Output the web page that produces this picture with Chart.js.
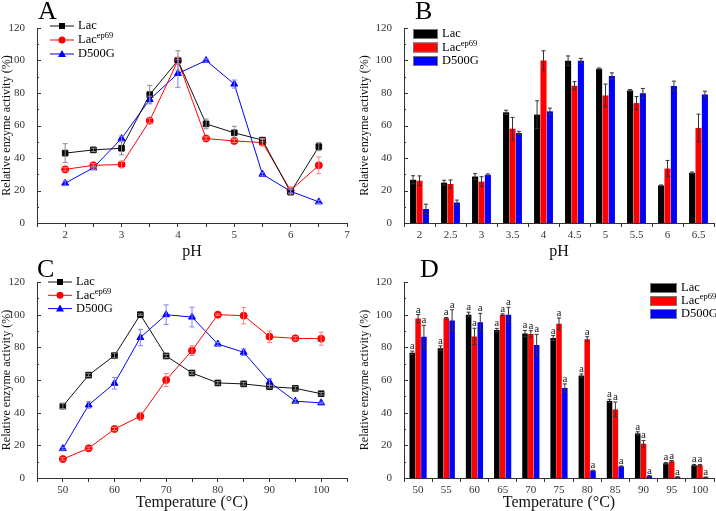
<!DOCTYPE html>
<html>
<head>
<title>Relative enzyme activity</title>
<script src="https://cdn.jsdelivr.net/npm/chart.js"></script>
<style>
  body { margin: 0; background: #fff; }
  #wrap { position: relative; width: 716px; height: 511px; }
  canvas { position: absolute; }
</style>
</head>
<body>
<div id="wrap">
  <canvas id="chartC" width="358" height="256" style="left:0;top:255px"></canvas>
  <canvas id="chartD" width="358" height="256" style="left:358px;top:255px"></canvas>
  <canvas id="chartA" width="358" height="262" style="left:0;top:0"></canvas>
  <canvas id="chartB" width="358" height="262" style="left:358px;top:0"></canvas>
</div>
<script>
// ---- data ----
const phValues = [2, 2.5, 3, 3.5, 4, 4.5, 5, 5.5, 6, 6.5];
const tempValues = [50, 55, 60, 65, 70, 75, 80, 85, 90, 95, 100];

// A: pH, line
const aLac = [43, 45, 46, 79, 100, 61, 55.5, 51, 19, 47];
const aLacErr = [5.8, 1, 4, 5.7, 6, 3, 4, 1, 2, 2.5];
const aEp69 = [33, 35.5, 36, 63, 100, 52, 50.5, 49.5, 20, 35.5];
const aEp69Err = [1, 1, 2, 1.5, 2, 1, 1, 2, 2, 5.2];
const aD500g = [24.5, 34, 52, 76, 92, 100, 85.5, 30, 19.5, 13];
const aD500gErr = [1.5, 1, 1.5, 2, 8.5, 1, 2.5, 1, 1, 1];

// B: pH, bars
const bLac = [26.6, 24.8, 28.6, 68.1, 66.7, 99.8, 94.9, 81.6, 23.1, 30.9];
const bLacErr = [2.5, 1.5, 1.8, 1.3, 8.5, 3, 0.5, 0.5, 0.3, 0.5];
const bEp69 = [26, 24, 25.5, 58, 100, 84.5, 78.5, 73.8, 33.5, 58.5];
const bEp69Err = [3, 2.5, 3, 7, 6, 2.5, 7, 4, 5, 8.5];
const bD500g = [8.6, 12.6, 29.7, 55.4, 68.7, 99.8, 90.4, 79.8, 84.3, 79.1];
const bD500gErr = [3, 1.5, 0.5, 1, 2, 1.5, 2, 3, 3, 2];

// C: temperature, line
const cLac = [44, 63, 75, 100, 74.7, 64.3, 58.2, 57.6, 55.9, 54.9, 51.6];
const cLacErr = [1.5, 0.8, 1.5, 0.5, 1, 0.8, 0.8, 0.8, 0.8, 1, 0.8];
const cEp69 = [11.6, 18.2, 30, 37.8, 60, 78, 100, 99.4, 86.5, 85.5, 85.3];
const cEp69Err = [0.8, 0.8, 1, 2.5, 4, 3, 0.5, 5, 3.5, 1, 4];
const cD500g = [18, 44.7, 58, 86, 100, 98.5, 82, 77, 58.8, 47, 46];
const cD500gErr = [0.8, 2, 3.5, 5, 6, 6, 1, 2, 2, 1, 0.5];

// D: temperature, bars
const dLac = [76.7, 79.4, 100, 90.6, 88.4, 85.7, 62.7, 47.2, 27.3, 9, 7.8];
const dLacErr = [1, 1.5, 1.5, 1, 2, 1.5, 1, 1, 1, 0.5, 0.5];
const dEp69 = [97.6, 97.8, 86.7, 100, 88.2, 94.5, 85, 42, 21, 10.2, 7.8];
const dEp69Err = [2.5, 0.5, 5, 0.5, 2, 3.5, 1.5, 4.5, 2, 0.5, 0.5];
const dD500g = [86.5, 96.5, 95.3, 100, 81.4, 55.1, 4.5, 7.1, 1.2, 0.6, 0.4];
const dD500gErr = [7, 6.5, 5.5, 4.5, 6.5, 2.5, 0.3, 0.3, 0.3, 0.2, 0.2];

const SERIF = "'Liberation Serif', 'Times New Roman', serif";
Chart.defaults.font.family = SERIF;
Chart.defaults.color = '#222';

const toPoints = (xs, ys) => xs.map((x, i) => ({ x: x, y: ys[i] }));

// error bars from each dataset's "errors" array
const errorBars = {
  id: 'errorBars',
  afterDatasetsDraw(chart) {
    const ctx = chart.ctx, ys = chart.scales.y;
    chart.data.datasets.forEach((ds, i) => {
      if (!ds.errors) return;
      const meta = chart.getDatasetMeta(i);
      ctx.save();
      ctx.strokeStyle = ds.errorColor;
      ctx.lineWidth = 1;
      meta.data.forEach((el, j) => {
        const d = ds.data[j];
        const v = typeof d === 'object' ? d.y : d;
        const e = ds.errors[j];
        const top = ys.getPixelForValue(v + e), bot = ys.getPixelForValue(v - e);
        const cap = ds.capHalf || 2.5;
        ctx.beginPath();
        ctx.moveTo(el.x, top); ctx.lineTo(el.x, bot);
        ctx.moveTo(el.x - cap, top); ctx.lineTo(el.x + cap, top);
        ctx.moveTo(el.x - cap, bot); ctx.lineTo(el.x + cap, bot);
        ctx.stroke();
      });
      ctx.restore();
    });
  }
};

// inward ticks on the y axis, panel letter, legend, "a" labels
const decor = {
  id: 'decor',
  afterDraw(chart, args, opts) {
    const ctx = chart.ctx, ys = chart.scales.y, area = chart.chartArea;
    ctx.save();
    ctx.strokeStyle = '#333';
    ctx.lineWidth = 1;
    for (let v = 0; v <= 120; v += 10) {
      const y = Math.round(ys.getPixelForValue(v)) + 0.5;
      ctx.beginPath();
      ctx.moveTo(area.left, y);
      ctx.lineTo(area.left + (v % 20 === 0 ? 4 : 2), y);
      ctx.stroke();
    }
    // panel letter
    ctx.fillStyle = '#000';
    ctx.font = '26px ' + SERIF;
    ctx.textBaseline = 'alphabetic';
    ctx.fillText(opts.letter, opts.letterX, opts.letterY);

    // "a" significance labels
    if (opts.aLabels) {
      ctx.font = '11px ' + SERIF;
      ctx.textAlign = 'center';
      ctx.fillStyle = '#222';
      chart.data.datasets.forEach((ds, i) => {
        chart.getDatasetMeta(i).data.forEach((el, j) => {
          ctx.fillText('a', el.x, ys.getPixelForValue(ds.data[j] + ds.errors[j]) - 2);
        });
      });
      ctx.textAlign = 'left';
    }

    // legend
    const lg = opts.legend;
    chart.data.datasets.forEach((ds, i) => {
      const y = lg.y + i * lg.dy;
      if (lg.kind === 'line') {
        ctx.strokeStyle = ds.borderColor;
        ctx.beginPath();
        ctx.moveTo(lg.x, y); ctx.lineTo(lg.x + lg.w, y);
        ctx.stroke();
        const cx = lg.x + lg.w / 2;
        ctx.fillStyle = ds.backgroundColor;
        ctx.beginPath();
        if (ds.pointStyle === 'rect') ctx.rect(cx - 3, y - 3, 6, 6);
        else if (ds.pointStyle === 'circle') ctx.arc(cx, y, 3.5, 0, Math.PI * 2);
        else { ctx.moveTo(cx, y - 4); ctx.lineTo(cx + 4, y + 3); ctx.lineTo(cx - 4, y + 3); ctx.closePath(); }
        ctx.fill();
      } else {
        ctx.fillStyle = ds.backgroundColor;
        ctx.fillRect(lg.x, y - 5, lg.w, 10);
        ctx.strokeStyle = '#777';
        ctx.strokeRect(lg.x + 0.5, y - 4.5, lg.w - 1, 9);
      }
      ctx.fillStyle = '#000';
      ctx.font = '12.5px ' + SERIF;
      ctx.textBaseline = 'middle';
      const tx = lg.x + lg.w + 4;
      ctx.fillText(ds.label, tx, y);
      if (ds.sup) {
        const w = ctx.measureText(ds.label).width;
        ctx.font = '8.5px ' + SERIF;
        ctx.fillText(ds.sup, tx + w, y - 4);
      }
    });
    ctx.restore();
  }
};

function yAxis(width) {
  return {
    min: 0, max: 120,
    afterFit: s => { s.width = width; },
    ticks: { stepSize: 20, padding: 4, font: { size: 11 }, color: '#333' },
    grid: { display: false },
    border: { display: true, color: '#333' },
    title: { display: true, text: 'Relative enzyme activity (%)', font: { size: 12 }, color: '#111', padding: { top: 0, bottom: 0 } }
  };
}

function xTitle(text, padBottom) {
  return { display: true, text: text, font: { size: 16 }, color: '#111', padding: { top: 0, bottom: padBottom } };
}

function baseOptions(yWidth, xHeight, padRight, padTop, xScale, decorOpts) {
  return {
    responsive: false,
    animation: false,
    layout: { padding: { left: 0, top: padTop, right: padRight, bottom: 0 } },
    plugins: { legend: { display: false }, tooltip: { enabled: false }, decor: decorOpts },
    scales: { x: Object.assign({ afterFit: s => { s.height = xHeight; } }, xScale), y: yAxis(yWidth) }
  };
}

function lineSets(xs, lac, lacErr, ep, epErr, dg, dgErr) {
  return [
    { label: 'Lac', data: toPoints(xs, lac), errors: lacErr, errorColor: '#8a8a8a',
      borderColor: '#111', backgroundColor: '#000', pointStyle: 'rect', pointRadius: 4, borderWidth: 1 },
    { label: 'Lac', sup: 'ep69', data: toPoints(xs, ep), errors: epErr, errorColor: '#ff8080',
      borderColor: '#ff0000', backgroundColor: '#ff0000', pointStyle: 'circle', pointRadius: 3.5, borderWidth: 1 },
    { label: 'D500G', data: toPoints(xs, dg), errors: dgErr, errorColor: '#8080ff',
      borderColor: '#0000ff', backgroundColor: '#0000ff', pointStyle: 'triangle', pointRadius: 4, borderWidth: 1 }
  ];
}

function barSets(lac, lacErr, ep, epErr, dg, dgErr) {
  const common = { errorColor: '#333', capHalf: 2, categoryPercentage: 0.62, barPercentage: 0.95, borderWidth: 0 };
  return [
    Object.assign({ label: 'Lac', data: lac, errors: lacErr, backgroundColor: '#000', borderColor: '#000' }, common),
    Object.assign({ label: 'Lac', sup: 'ep69', data: ep, errors: epErr, backgroundColor: '#ff0000', borderColor: '#ff0000' }, common),
    Object.assign({ label: 'D500G', data: dg, errors: dgErr, backgroundColor: '#0000ff', borderColor: '#0000ff' }, common)
  ];
}

const xTickStyle = { font: { size: 11 }, color: '#333', padding: 2, autoSkip: false, maxRotation: 0 };
const xGrid = { drawOnChartArea: false, tickLength: 4, color: '#333' };
const xBorder = { display: true, color: '#333' };

// Panel A
new Chart(document.getElementById('chartA'), {
  type: 'line',
  data: { datasets: lineSets(phValues, aLac, aLacErr, aEp69, aEp69Err, aD500g, aD500gErr) },
  options: baseOptions(37, 39, 11, 28, {
    type: 'linear', min: 1.5, max: 7,
    ticks: Object.assign({ stepSize: 0.5, callback: v => (v % 1 === 0 ? v : '') }, xTickStyle),
    grid: xGrid, border: xBorder, title: xTitle('pH', 1)
  }, { letter: 'A', letterX: 38, letterY: 19, legend: { kind: 'line', x: 50, w: 24, y: 26, dy: 14 } }),
  plugins: [errorBars, decor]
});

// Panel B
new Chart(document.getElementById('chartB'), {
  type: 'bar',
  data: { labels: phValues.map(String), datasets: barSets(bLac, bLacErr, bEp69, bEp69Err, bD500g, bD500gErr) },
  options: baseOptions(46, 39, 2, 28, {
    ticks: xTickStyle, grid: xGrid, border: xBorder, title: xTitle('pH', 1)
  }, { letter: 'B', letterX: 57, letterY: 19, legend: { kind: 'box', x: 55, w: 25, y: 34, dy: 13.5 } }),
  plugins: [errorBars, decor]
});

// Panel C
new Chart(document.getElementById('chartC'), {
  type: 'line',
  data: { datasets: lineSets(tempValues, cLac, cLacErr, cEp69, cEp69Err, cD500g, cD500gErr) },
  options: baseOptions(37, 33, 11, 27, {
    type: 'linear', min: 45, max: 105,
    ticks: Object.assign({ stepSize: 5, callback: v => (v % 10 === 0 ? v : '') }, xTickStyle),
    grid: xGrid, border: xBorder, title: xTitle('Temperature (°C)', -1)
  }, { letter: 'C', letterX: 37, letterY: 22, legend: { kind: 'line', x: 48, w: 24, y: 27, dy: 13.3 } }),
  plugins: [errorBars, decor]
});

// Panel D
new Chart(document.getElementById('chartD'), {
  type: 'bar',
  data: { labels: tempValues.map(String), datasets: barSets(dLac, dLacErr, dEp69, dEp69Err, dD500g, dD500gErr) },
  options: baseOptions(46, 33, 2, 27, {
    ticks: xTickStyle, grid: xGrid, border: xBorder, title: xTitle('Temperature (°C)', -1)
  }, { letter: 'D', letterX: 62, letterY: 22, aLabels: true, legend: { kind: 'box', x: 292, w: 27, y: 33, dy: 13 } }),
  plugins: [errorBars, decor]
});
</script>
</body>
</html>
